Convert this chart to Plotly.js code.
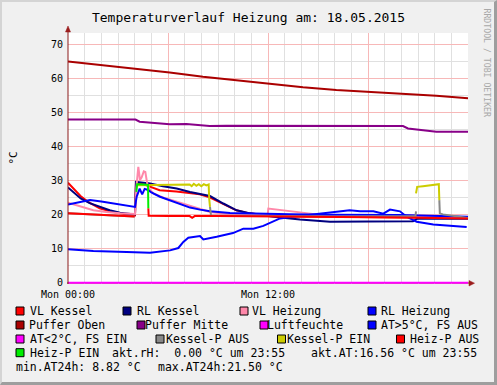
<!DOCTYPE html>
<html><head><meta charset="utf-8">
<script src="https://cdn.plot.ly/plotly-3.0.1.min.js"></script>
<style>
html,body{margin:0;padding:0;background:#f0f0f0;}
#wrap{position:relative;width:497px;height:385px;overflow:hidden;}
#chart{position:absolute;left:0;top:0;width:497px;height:385px;}
#frame{position:absolute;left:0;top:0;width:497px;height:385px;box-sizing:border-box;border-top:2px solid #d4d4d4;border-left:2px solid #d4d4d4;border-right:3px solid #9e9e9e;border-bottom:3px solid #9e9e9e;pointer-events:none;}
</style></head>
<body><div id="wrap"><div id="chart"></div><div id="frame"></div></div>
<script>
// ---- data (hours since Mon 00:00, values in °C) ----
const seriesNames = ['VL Kessel','RL Kessel','VL Heizung','RL Heizung','Puffer Oben','Puffer Mitte','Luftfeuchte','AT>5°C, FS AUS','AT<2°C, FS EIN','Kessel-P AUS','Kessel-P EIN','Heiz-P AUS','Heiz-P EIN'];
const seriesColors = ['#ff0000','#000080','#ff88aa','#0000ff','#aa0000','#880088','#ff00ff','#0000ff','#ff00ff','#888888','#cccc00','#ff0000','#00ee00'];

const vlKesselT = [0,0.15,0.4,0.75,1.2,1.9,2.5,3.1,3.6,4.02,4.08,4.5,4.92,5.5,6.5,7.3,7.9,8.5,9.3,10.1,10.9,11.6,12.3,14,16,18,20,22,24];
const vlKesselV = [29.4,28.6,27.4,25.5,23.8,21.9,21.0,20.4,20.0,19.8,29.4,29.0,28.2,27.2,26.8,26.4,26.0,25.1,23.1,21.3,20.4,19.9,19.6,19.5,19.4,19.3,19.2,19.1,19.0];

const rlKesselT = [0,0.2,0.76,1.3,1.92,2.5,3.12,4.02,4.08,4.92,5.7,6.52,7.32,7.92,8.52,9.32,10.12,10.92,11.6,12.32,13.92,15.72,18,20.7,21.0,24];
const rlKesselV = [28.0,27.2,24.8,23.4,22.3,21.3,20.6,20.1,29.7,29.2,28.4,27.7,26.7,26.2,25.5,23.3,21.3,20.4,19.9,19.4,18.6,17.9,18.0,18.1,18.9,18.8];

const vlHeizT = [0,0.7,1.52,2.3,3.12,4.02,4.1,4.22,4.32,4.42,4.55,4.64,4.75,4.9,5.12,5.8,6.52,7.2,7.92,8.52,9.72,11.0,11.98,12.02,12.8,13.52,14.92,16.0,20,24];
const vlHeizV = [23.5,22.5,21.3,20.8,20.4,20.2,28.0,34.1,30.2,31.0,32.8,32.6,29.2,27.5,26.3,24.9,23.8,22.7,21.8,20.8,20.1,19.9,19.9,21.8,21.3,20.8,20.1,19.6,19.4,19.2];

const rlHeizT = [0,0.6,1.32,2.0,2.52,3.3,4.02,4.12,4.3,4.45,4.6,4.8,5.0,5.52,6.52,7.32,7.92,8.52,9.72,11.32,13.32,15.72,19.92,22.32,24];
const rlHeizV = [23.0,23.6,24.3,23.9,23.5,22.9,22.3,25.3,27.7,26.0,27.6,27.3,26.6,25.3,23.5,22.1,21.5,21.0,20.5,20.3,20.1,20.0,19.9,19.6,19.4];

const pufferObenT = [0,4.1,6.1,8.1,10.1,12.1,14.1,16.1,18.1,20.1,22.1,24];
const pufferObenV = [65.1,62.9,61.9,60.6,59.5,58.6,57.5,56.7,56.2,55.7,55.0,54.3];

const pufferMitteT = [0,4.05,4.3,6.1,7.1,8.5,9.5,14,20.1,20.4,22.1,24];
const pufferMitteV = [48.0,48.0,47.4,46.6,46.7,46.1,46.2,46.2,46.1,45.4,44.4,44.4];

const luftT = [0,24];
const luftV = [0,0];

const atT = [0,1.52,3.52,4.92,6.12,6.62,6.92,7.22,7.92,8.12,8.92,9.9,10.52,11.12,11.72,12.02,12.72,13.5,15.12,15.52,16.72,16.9,17.52,18.32,18.92,19.32,19.92,20.32,20.92,21.92,23.12,23.92];
const atV = [9.8,9.3,9.0,8.82,9.5,10.2,12.0,13.2,13.7,12.7,13.5,14.6,15.9,15.9,16.7,17.4,18.9,19.4,20.3,20.6,21.1,21.3,21.0,21.0,20.3,21.5,21.0,19.4,17.9,17.1,16.7,16.4];

const atColdT = [];
const atColdV = [];

const kpAusT = [0,2,4.0,4.05,8.52,8.58,12,16,20.85,20.88,21.5,22.28,22.31,22.5,24];
const kpAusV = [20.4,20.0,19.5,null,22.3,19.8,19.6,19.5,19.6,21.0,null,24.3,20.4,20.1,19.0];

const kpEinT = [4.1,4.5,5.5,6.5,7.3,7.42,7.55,7.7,7.85,8.0,8.15,8.3,8.44,8.47,8.52,8.6,20.88,20.95,21.3,22.1,22.25,22.28];
const kpEinV = [28.7,28.7,28.7,28.8,28.9,28.4,29.1,28.5,29.0,28.4,29.0,28.6,28.9,24.8,22.3,null,26.3,28.2,28.4,29.0,29.0,24.3];

const hpAusT = [0,1,2,3,4.0,4.4,4.82,4.84,6,7.3,7.45,7.6,9,12,16,20,24];
const hpAusV = [20.4,20.2,20.0,19.7,19.5,null,21.9,19.7,19.6,19.6,19.1,19.6,19.6,19.5,19.4,19.2,18.9];

const hpEinT = [4.1,4.15,4.3,4.6,4.8,4.82];
const hpEinV = [26.7,29.0,29.0,28.9,28.8,21.9];

const statTexts = ['akt.rH:  0.00 °C um 23:55','akt.AT:16.56 °C um 23:55','min.AT24h: 8.82 °C','max.AT24h:21.50 °C'];
const xTickVals = [0,6,12,18];
const xTickText = ['Mon 00:00','','Mon 12:00',''];
const yTickVals = [0,10,20,30,40,50,60,70];
const titleText = 'Temperaturverlauf Heizung am: 18.05.2015';

// ---- drawing ----
const F = 'DejaVu Sans Mono';
const W=497,H=385,L=68,R=29,T=33,B=101;
const pw=W-L-R, ph=H-T-B;
const px = x => (x-L)/pw;
const py = y => (H-B-y)/ph;

const seriesData = [[vlKesselT,vlKesselV],[rlKesselT,rlKesselV],[vlHeizT,vlHeizV],[rlHeizT,rlHeizV],[pufferObenT,pufferObenV],[pufferMitteT,pufferMitteV],[luftT,luftV],[atT,atV],[atColdT,atColdV],[kpAusT,kpAusV],[kpEinT,kpEinV],[hpAusT,hpAusV],[hpEinT,hpEinV]];
const traces = seriesData.map((d,i)=>({x:d[0],y:d[1],type:'scatter',mode:'lines',name:seriesNames[i],line:{color:seriesColors[i],width:2},connectgaps:false,showlegend:false,hoverinfo:'skip'}));

// legend layout: [seriesIndex, squareX, textX] per row, row centre y
const legendRows = [
  {y:311, items:[[0,16,31],[1,123,138],[2,240,253],[3,368,382]]},
  {y:325, items:[[4,16,30],[5,137,145.5],[6,260,267.5],[7,368,382]]},
  {y:339, items:[[8,16,31],[9,156,166.5],[10,277.5,288],[11,396.5,410.5]]},
  {y:352.7, items:[[12,16,31]]}
];
const statPos = [[113,352.7],[312,352.7],[16.5,367.3],[159,367.3]];

const shapes = [];
const annotations = [];
legendRows.forEach(r=>{
  r.items.forEach(it=>{
    const [i,sx,tx]=it;
    shapes.push({type:'rect',xref:'paper',yref:'paper',x0:px(sx),x1:px(sx+8),y0:py(r.y+4),y1:py(r.y-4),fillcolor:seriesColors[i],line:{color:'#000',width:1},layer:'above'});
    annotations.push({xref:'paper',yref:'paper',x:px(tx-0.6),y:py(r.y),xanchor:'left',yanchor:'middle',text:seriesNames[i].replace(/</g,'&lt;').replace(/>/g,'&gt;'),showarrow:false,borderpad:0,borderwidth:0,font:{family:F,size:11.5,color:'#000'}});
  });
});
statTexts.forEach((s,k)=>{
  annotations.push({xref:'paper',yref:'paper',x:px(statPos[k][0]-0.6),y:py(statPos[k][1]),xanchor:'left',yanchor:'middle',text:s.replace(/ /g,'&nbsp;'),showarrow:false,borderpad:0,borderwidth:0,font:{family:F,size:11.5,color:'#000'}});
});
// y axis title and side text
annotations.push({xref:'paper',yref:'paper',x:px(13),y:py(157.5),xanchor:'center',yanchor:'middle',text:'°C',textangle:-90,showarrow:false,borderpad:0,borderwidth:0,font:{family:F,size:11,color:'#000'}});
annotations.push({xref:'paper',yref:'paper',x:px(487),y:py(62.5),xanchor:'center',yanchor:'middle',text:'RRDTOOL / TOBI OETIKER',textangle:90,showarrow:false,borderpad:0,borderwidth:0,font:{family:F,size:8.2,color:'#a8a8a8'}});

// axes lines & arrows
const axC = '#8b1a1a';
shapes.push({type:'line',xref:'paper',yref:'paper',x0:px(68),x1:px(68),y0:py(284),y1:py(31),line:{color:axC,width:1},layer:'above'});
shapes.push({type:'line',xref:'paper',yref:'paper',x0:px(67),x1:px(469),y0:py(283),y1:py(283),line:{color:axC,width:1},layer:'below'});
shapes.push({type:'path',xref:'paper',yref:'paper',path:`M ${px(65.5)} ${py(32)} L ${px(68)} ${py(26)} L ${px(70.5)} ${py(32)} Z`,fillcolor:'#9b1c1c',line:{color:'#9b1c1c',width:0.5},layer:'above'});
shapes.push({type:'path',xref:'paper',yref:'paper',path:`M ${px(469)} ${py(280.5)} L ${px(474.5)} ${py(283.2)} L ${px(469)} ${py(286)} Z`,fillcolor:'#9b1c1c',line:{color:'#9b1c1c',width:0.5},layer:'above'});

const layout = {
  width:W,height:H,
  margin:{l:L,r:R,t:T,b:B,pad:0},
  paper_bgcolor:'#f0f0f0',plot_bgcolor:'#ffffff',
  title:{text:titleText,font:{family:F,size:13,color:'#000'},x:0.5,xref:'container',xanchor:'center',y:1-17/H,yref:'container',yanchor:'middle'},
  xaxis:{range:[0,24],tickmode:'array',tickvals:xTickVals,ticktext:xTickText,showgrid:true,gridcolor:'#f7b8b8',gridwidth:1,
    minor:{tickmode:'linear',tick0:0,dtick:1,showgrid:true,gridcolor:'#e0e0e0',gridwidth:1,ticks:''},
    zeroline:false,showline:false,ticks:'',ticklabelstandoff:3,tickfont:{family:F,size:10,color:'#000'},fixedrange:true},
  yaxis:{range:[-0.4,73.5],tickmode:'array',tickvals:yTickVals,showgrid:true,gridcolor:'#f7b8b8',gridwidth:1,
    minor:{tickmode:'linear',tick0:0,dtick:5,showgrid:true,gridcolor:'#e0e0e0',gridwidth:1,ticks:''},
    zeroline:false,showline:false,ticks:'',ticklabelstandoff:4,tickfont:{family:F,size:10,color:'#000'},fixedrange:true},
  showlegend:false,
  shapes:shapes,
  annotations:annotations
};
Plotly.newPlot('chart',traces,layout,{staticPlot:true,displayModeBar:false});
</script></body></html>
